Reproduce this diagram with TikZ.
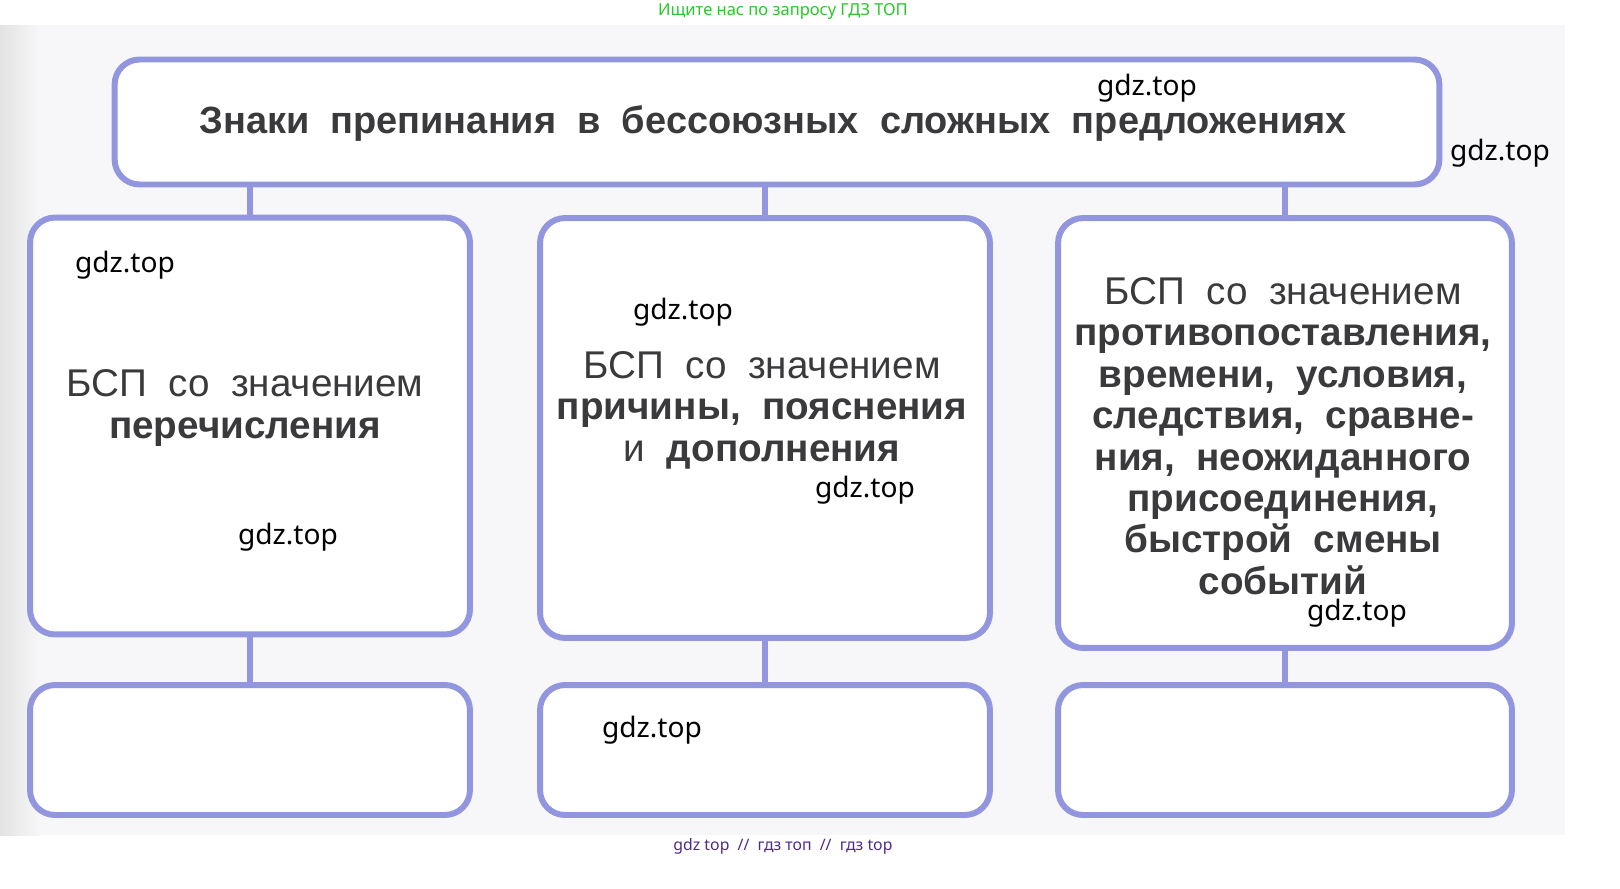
\documentclass[tikz,border=0pt]{standalone}
\usepackage{fontspec}
\setmainfont{Liberation Sans}
\newfontfamily\wmfont{Noto Sans}
\usepackage{tikz}
\usetikzlibrary{positioning}
\definecolor{frame}{RGB}{146,150,222}
\definecolor{ink}{RGB}{58,58,60}
\definecolor{scan}{RGB}{247,247,249}
\definecolor{wmgreen}{RGB}{40,200,40}
\definecolor{wmpurple}{RGB}{80,40,140}
\tikzset{
    box/.style={draw=frame, line width=3.4pt, rounded corners=0.5cm, fill=white},
    txt/.style={text=ink, align=center, font=\fontsize{22}{23.6}\selectfont},
    link/.style={draw=frame, line width=3.4pt},
    wm/.style={font=\wmfont\fontsize{16}{18}\selectfont, text=black},
}
\begin{document}
\begin{tikzpicture}[x=0.02cm, y=-0.02cm]
	\useasboundingbox (0,0) rectangle (1620,889);
	% scanned page
	\fill[scan] (0,25) rectangle (1565,835);
	\shade[left color=gray!22, right color=scan] (0,25) rectangle (40,835);
	% boxes
	\node[box, minimum width=26.5cm, minimum height=2.5cm] (title) at (777,122) {};
	\node[box, minimum width=8.8cm, minimum height=8.34cm] (enum) at (250,426) {};
	\node[box, minimum width=9cm, minimum height=8.4cm] (cause) at (765,428) {};
	\node[box, minimum width=9.08cm, minimum height=8.6cm] (contr) at (1285,433) {};
	\node[box, minimum width=8.8cm, minimum height=2.6cm] (enumsign) at (250,750) {};
	\node[box, minimum width=9cm, minimum height=2.6cm] (causesign) at (765,750) {};
	\node[box, minimum width=9.08cm, minimum height=2.6cm] (contrsign) at (1285,750) {};
	% texts
	\node[txt, font=\fontsize{21.6}{24}\selectfont\bfseries] (titletext) at (773,124)
		{Знаки\ \ препинания\ \ в\ \ бессоюзных\ \ сложных\ \ предложениях};
	\node[txt] (enumtext) at (245,408)
		{БСП\ \ со\ \ значением\\ \bfseries перечисления};
	\node[txt] (causetext) at (762,410)
		{БСП\ \ со\ \ значением\\ \bfseries причины,\ \ пояснения\\ и\ \ {\bfseries дополнения}};
	\node[txt] (contrtext) at (1283,436)
		{БСП\ \ со\ \ значением\\ \bfseries противопоставления,\\ \bfseries времени,\ \ условия,\\
		 \bfseries следствия,\ \ сравне-\\ \bfseries ния,\ \ неожиданного\\ \bfseries присоединения,\\
		 \bfseries быстрой\ \ смены\\ \bfseries событий};
	% connectors
	\draw[link] (title.south -| enum.north) -- (enum.north);
	\draw[link] (title.south -| cause.north) -- (cause.north);
	\draw[link] (title.south -| contr.north) -- (contr.north);
	\draw[link] (enum.south) -- (enumsign.north);
	\draw[link] (cause.south) -- (causesign.north);
	\draw[link] (contr.south) -- (contrsign.north);
	% watermarks
	\node[wm] (wma) at (1147,88) {gdz.top};
	\node[wm] (wmb) at (1500,153) {gdz.top};
	\node[wm] (wmc) at (125,265) {gdz.top};
	\node[wm] (wmd) at (683,312) {gdz.top};
	\node[wm] (wme) at (865,490) {gdz.top};
	\node[wm] (wmf) at (288,537) {gdz.top};
	\node[wm] (wmg) at (1357,613) {gdz.top};
	\node[wm] (wmh) at (652,730) {gdz.top};
	\node[font=\wmfont\fontsize{9.4}{11}\selectfont, text=wmgreen] (search) at (783,11)
		{Ищите нас по запросу ГДЗ ТОП};
	\node[font=\wmfont\fontsize{9}{11}\selectfont, text=wmpurple] (footer) at (783,846)
		{gdz top\ \ //\ \ гдз топ\ \ //\ \ гдз top};
\end{tikzpicture}
\end{document}
